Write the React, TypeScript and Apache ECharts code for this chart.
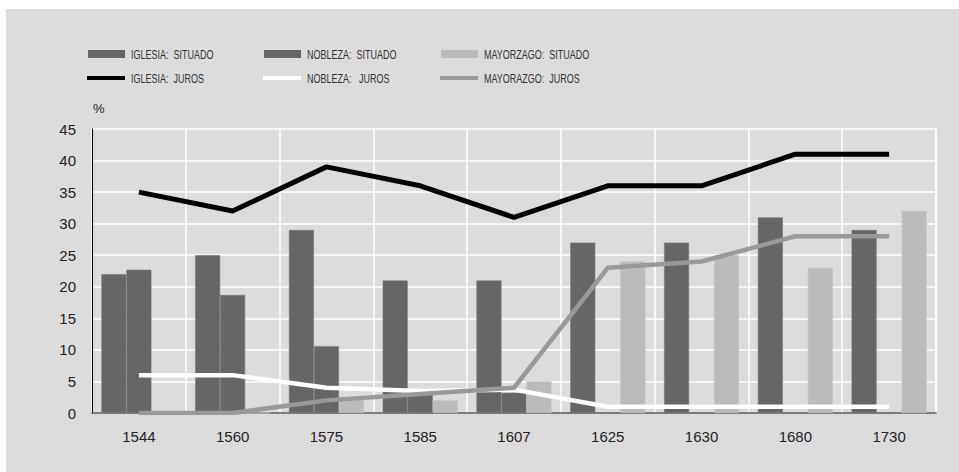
import React, { useEffect, useRef } from "react";
import * as echarts from "echarts";

const years = ["1544", "1560", "1575", "1585", "1607", "1625", "1630", "1680", "1730"];
const iglesiaSituado = [22, 25, 29, 21, 21, 27, 27, 31, 29];
const noblezaSituado = [22.7, 18.7, 10.6, 3, 3.2, 0, 0, 0, 0];
const mayorazgoSituado = [0, 0, 2.5, 2, 5, 24, 25, 23, 32];
const iglesiaJuros = [35, 32, 39, 36, 31, 36, 36, 41, 41];
const noblezaJuros = [6, 6, 4, 3.5, 3.7, 1, 1, 1, 1];
const mayorazgoJuros = [0, 0, 2, 3, 4, 23, 24, 28, 28];
const yTicks = [0, 5, 10, 15, 20, 25, 30, 35, 40, 45];

const seriesNames = [
  "IGLESIA:  SITUADO",
  "NOBLEZA:  SITUADO",
  "MAYORZAGO:  SITUADO",
  "IGLESIA:  JUROS",
  "NOBLEZA:   JUROS",
  "MAYORAZGO:  JUROS",
];

const DARK = "#666666";
const LIGHT = "#bbbbbb";
const FONT = "'Liberation Sans', Arial, Helvetica, sans-serif";

export default function App() {
  const ref = useRef<HTMLDivElement>(null);
  useEffect(() => {
    if (!ref.current) return;
    const chart = echarts.init(ref.current, null, { renderer: "svg" });

    const colX = [82, 258, 435];
    const textX = [125, 301, 478];
    const rowY = [45, 69];
    const barColors = [DARK, DARK, LIGHT];
    const lineColors = ["#000000", "#ffffff", "#999999"];
    const legendGraphics: any[] = [];
    for (let i = 0; i < 3; i++) {
      legendGraphics.push({
        type: "rect",
        shape: { x: colX[i], y: rowY[0] - 4, width: 37, height: 8 },
        style: { fill: barColors[i] },
      });
      legendGraphics.push({
        type: "line",
        shape: { x1: colX[i] - 1, y1: rowY[1], x2: colX[i] + 37, y2: rowY[1] },
        style: { stroke: lineColors[i], lineWidth: 4 },
      });
      legendGraphics.push({
        type: "text",
        x: textX[i],
        y: rowY[0],
        scaleX: 0.72,
        style: { text: seriesNames[i], fontFamily: FONT, fontSize: 12.5, fill: "#333", verticalAlign: "middle" },
      });
      legendGraphics.push({
        type: "text",
        x: textX[i],
        y: rowY[1],
        scaleX: 0.72,
        style: { text: seriesNames[i + 3], fontFamily: FONT, fontSize: 12.5, fill: "#333", verticalAlign: "middle" },
      });
    }

    chart.setOption({
      animation: false,
      backgroundColor: "#dcdcdc",
      grid: { left: 86, right: 23, top: 120, bottom: 59 },
      xAxis: {
        type: "category",
        data: years,
        boundaryGap: true,
        axisLine: { show: true, lineStyle: { color: "#555", width: 1.5 } },
        axisTick: { show: false },
        axisLabel: { margin: 16, fontFamily: FONT, fontSize: 15, color: "#222" },
        splitLine: { show: true, lineStyle: { color: "#ffffff", width: 1.5 } },
      },
      yAxis: {
        type: "value",
        min: yTicks[0],
        max: yTicks[yTicks.length - 1],
        interval: 5,
        name: "%",
        nameLocation: "end",
        nameGap: 14,
        nameTextStyle: { align: "left", fontFamily: FONT, fontSize: 13, color: "#222", padding: [0, 0, 0, 1] },
        axisLine: { show: true, lineStyle: { color: "#000", width: 1 } },
        axisTick: { show: false },
        axisLabel: { margin: 16, fontFamily: FONT, fontSize: 15, color: "#222" },
        splitLine: { show: true, lineStyle: { color: "#ffffff", width: 1.5 } },
      },
      graphic: [
        { type: "line", shape: { x1: 930, y1: 120, x2: 930, y2: 404 }, style: { stroke: "#fff", lineWidth: 1.5 }, z: 0 },
        ...legendGraphics,
      ],
      series: [
        {
          name: seriesNames[0],
          type: "bar",
          data: iglesiaSituado,
          barGap: "0%",
          barCategoryGap: "20%",
          itemStyle: { color: DARK, borderColor: "#787878", borderWidth: 0.6 },
        },
        {
          name: seriesNames[1],
          type: "bar",
          data: noblezaSituado,
          itemStyle: { color: DARK, borderColor: "#787878", borderWidth: 0.6 },
        },
        {
          name: seriesNames[2],
          type: "bar",
          data: mayorazgoSituado,
          itemStyle: { color: LIGHT, borderColor: "#c4c4c4", borderWidth: 0.6 },
        },
        {
          name: seriesNames[3],
          type: "line",
          data: iglesiaJuros,
          symbol: "none",
          color: "#000000",
          lineStyle: { color: "#000000", width: 5 },
        },
        {
          name: seriesNames[4],
          type: "line",
          data: noblezaJuros,
          symbol: "none",
          color: "#ffffff",
          lineStyle: { color: "#ffffff", width: 4.5 },
        },
        {
          name: seriesNames[5],
          type: "line",
          data: mayorazgoJuros,
          symbol: "none",
          color: "#999999",
          lineStyle: { color: "#999999", width: 4.5 },
        },
      ],
    });
    return () => chart.dispose();
  }, []);
  return (
    <div style={{ position: "absolute", left: 0, top: 0, width: 959, height: 472, background: "#ffffff" }}>
      <div ref={ref} style={{ position: "absolute", left: 6, top: 9, width: 953, height: 463 }} />
    </div>
  );
}
